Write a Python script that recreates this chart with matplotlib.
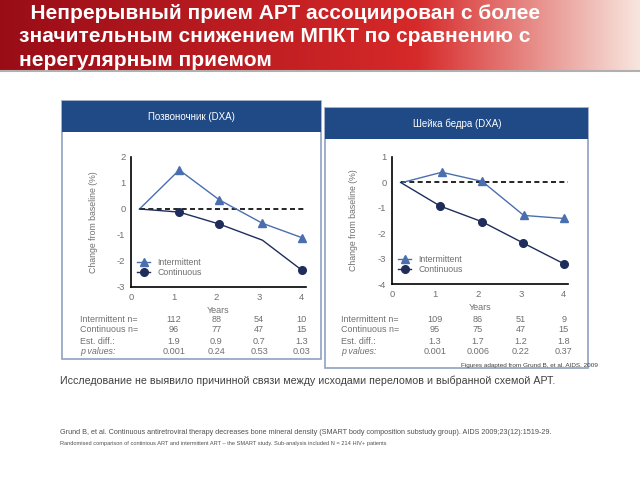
import numpy as np
import matplotlib
matplotlib.use("Agg")
import matplotlib.pyplot as plt
from matplotlib.patches import Rectangle

plt.rcParams['font.family'] = ['Liberation Sans', 'DejaVu Sans']
plt.rcParams['axes.unicode_minus'] = False

# spine (left panel)
sp_int_x = [0.2, 1.13, 2.07, 3.08, 4.0]
sp_int_y = [0.0, 1.5, 0.35, -0.55, -1.1]
sp_con_x = [0.2, 1.13, 2.07, 3.08, 4.0]
sp_con_y = [0.0, -0.12, -0.58, -1.2, -2.35]
sp_con_marked = [1, 2, 4]

# femoral neck (right panel)
fn_int_x = [0.25, 1.16, 2.1, 3.07, 4.0]
fn_int_y = [0.0, 0.4, 0.04, -1.3, -1.42]
fn_con_x = [0.2, 1.12, 2.1, 3.05, 4.0]
fn_con_y = [0.0, -0.93, -1.55, -2.38, -3.2]

row_labels = ["Intermittent n=", "Continuous n=", "Est. diff.:", "p values:"]
sp_table = [["112", "88", "54", "10"],
            ["96", "77", "47", "15"],
            ["1.9", "0.9", "0.7", "1.3"],
            ["0.001", "0.24", "0.53", "0.03"]]
fn_table = [["109", "86", "51", "9"],
            ["95", "75", "47", "15"],
            ["1.3", "1.7", "1.2", "1.8"],
            ["0.001", "0.006", "0.22", "0.37"]]

c_int = "#4a6fae"
c_con = "#1f2d5a"
c_head = "#1f4a86"
c_box = "#8fa2bf"
c_gray = "#707070"

fig = plt.figure(figsize=(6.4, 4.8), dpi=100)

# background overlay in pixel coordinates
bg = fig.add_axes([0, 0, 1, 1])
bg.axis("off")

# title banner gradient
grad = np.linspace(0, 1, 256)
c0 = np.array([0.60, 0.05, 0.09])
c1 = np.array([0.84, 0.16, 0.16])
c2 = np.array([0.97, 0.90, 0.87])
cols = []
for g in grad:
    if g < 0.65:
        t = g / 0.65
        cols.append(c0 * (1 - t) + c1 * t)
    else:
        t = (g - 0.65) / 0.35
        cols.append(c1 * (1 - t) + c2 * t)
img = np.array(cols)[None, :, :]
bg.imshow(img, extent=[0, 640, 70, 0], aspect="auto", zorder=0)
bg.plot([0, 640], [70.5, 70.5], color="#b0b0b0", lw=1.5, zorder=1)
bg.set_xlim(0, 640)
bg.set_ylim(480, 0)

# panels
bg.add_patch(Rectangle((62, 101), 259, 258, fill=False, ec=c_box, lw=1.2))
bg.add_patch(Rectangle((62, 101), 259, 31, fc=c_head, ec="none"))
bg.add_patch(Rectangle((325, 108), 263, 260, fill=False, ec=c_box, lw=1.2))
bg.add_patch(Rectangle((325, 108), 263, 31, fc=c_head, ec="none"))
bg.text(191, 117, "Позвоночник (DXA)", color="white", fontsize=7, ha="center", va="center")
bg.text(457, 124, "Шейка бедра (DXA)", color="white", fontsize=7, ha="center", va="center")

title = ("  Непрерывный прием АРТ ассоциирован с более\n"
         "значительным снижением МПКТ по сравнению с\n"
         "нерегулярным приемом")
bg.text(19, 37, title, color="white", fontsize=15, fontweight="bold",
        ha="left", va="center", linespacing=1.3)

bg.text(60, 381, "Исследование не выявило причинной связи между исходами переломов и выбранной схемой АРТ.",
        color="#404040", fontsize=7.65, ha="left", va="center")
bg.text(60, 433, "Grund B, et al. Continuous antiretroviral therapy decreases bone mineral density (SMART body composition substudy group). AIDS 2009;23(12):1519-29.",
        color="#505050", fontsize=5.2, ha="left", va="center")
bg.text(60, 443, "Randomised comparison of continious ART and intermittent ART \u2013 the SMART study. Sub-analysis included N = 214 HIV+ patients",
        color="#505050", fontsize=4.05, ha="left", va="center")
bg.text(598, 365, "Figures adapted from Grund B, et al. AIDS. 2009",
        color="#404040", fontsize=4.6, ha="right", va="center")


def panel(rect, ylim, ix, iy, cx, cy, cmark, table, lab_x):
    ax = fig.add_axes(rect)
    ax.plot(ix, iy, color=c_int, lw=1, marker="^", ms=5.5, markevery=[1, 2, 3, 4], label="Intermittent", zorder=3)
    ax.plot(cx, cy, color=c_con, lw=1, marker="o", ms=5.5, markevery=cmark, label="Continuous", zorder=3)
    ax.plot([0.2, 4.1], [0, 0], color="black", lw=1.2, ls=(0, (3, 2)), zorder=2)
    ax.set_xlim(0, 4.1)
    ax.set_ylim(*ylim)
    ax.set_xticks([0, 1, 2, 3, 4])
    ax.set_yticks(range(ylim[0], ylim[1] + 1))
    for s in ["top", "right"]:
        ax.spines[s].set_visible(False)
    for s in ["left", "bottom"]:
        ax.spines[s].set_linewidth(1.2)
    ax.tick_params(labelsize=6.8, colors=c_gray, length=0, pad=4)
    ax.set_xlabel("Years", fontsize=6.5, color=c_gray, labelpad=3)
    ax.legend(loc="lower left", bbox_to_anchor=(0.0, 0.03), frameon=False, fontsize=6.3,
              handlelength=1.5, labelspacing=0.1, borderaxespad=0.3, labelcolor=c_gray)
    rows_y = [320, 329, 341, 351]
    for r, yy in enumerate(rows_y):
        bg.text(lab_x, yy, row_labels[r], fontsize=6.4, color=c_gray, ha="left", va="center",
                style="italic" if r == 3 else "normal")
        for k in range(4):
            xp = ax.transData.transform((k + 1, 0))[0]
            bg.text(xp, yy, table[r][k], fontsize=6.6, color=c_gray, ha="center", va="center")
    ax.set_ylabel("Change from baseline (%)", fontsize=6.3, color=c_gray, labelpad=14)
    return ax


panel([131 / 640, 1 - 287 / 480, 175 / 640, 130 / 480], (-3, 2),
      sp_int_x, sp_int_y, sp_con_x, sp_con_y, sp_con_marked, sp_table, 80)
panel([392 / 640, 1 - 284 / 480, 176 / 640, 127 / 480], (-4, 1),
      fn_int_x, fn_int_y, fn_con_x, fn_con_y, [1, 2, 3, 4], fn_table, 341)

fig.savefig("out.png", dpi=100)
